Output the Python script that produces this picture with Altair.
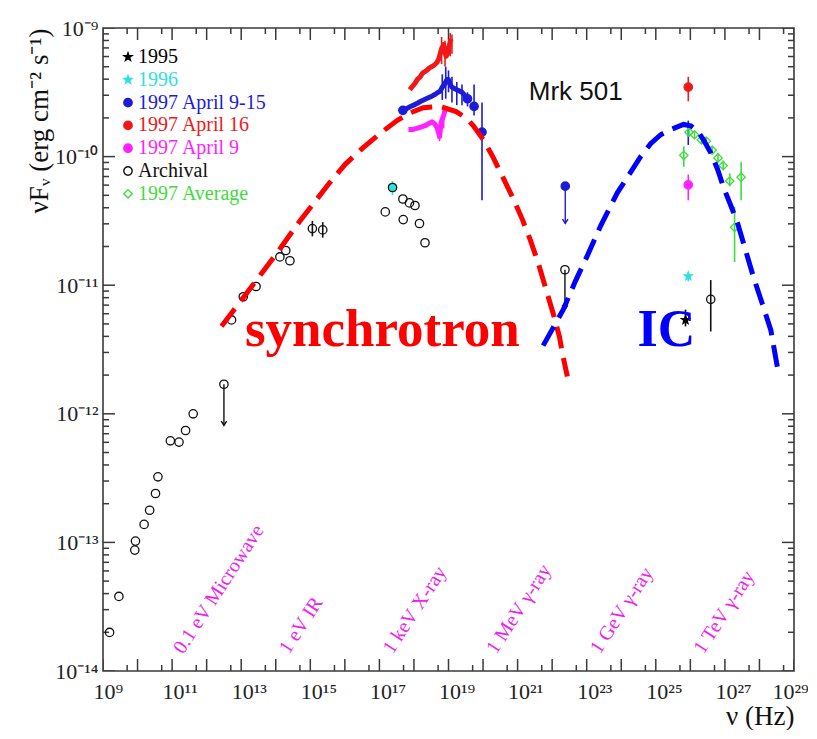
import altair as alt
import pandas as pd

# ---------------- data (log10 values) ----------------
series_names = ["1995", "1996", "1997 April 9-15", "1997 April 16",
                "1997 April 9", "Archival", "1997 Average"]

# individual measured points  (log10 nu [Hz], log10 nuFnu [erg cm^-2 s^-1])
p1995_lognu = [25.86]
p1995_logF = [-11.27]
p1996_lognu = [25.94]
p1996_logF = [-10.93]
pblue_lognu = [17.68, 19.55, 19.74, 19.97, 22.38]
pblue_logF = [-9.64, -9.55, -9.61, -9.81, -10.23]
pred_lognu = [25.94]
pred_logF = [-9.46]
pmag_lognu = [25.94]
pmag_logF = [-10.22]
arch_lognu = [9.19, 9.46, 9.92, 9.94, 10.19, 10.35, 10.52, 10.59, 10.95, 11.20,
              11.39, 11.61, 12.50, 12.72, 13.06, 13.43, 14.12, 14.29, 14.41, 15.06,
              15.36, 17.17, 17.38, 17.68, 17.87, 18.03, 17.69, 18.16, 18.32, 22.37,
              26.59]
arch_logF = [-13.70, -13.42, -13.06, -12.99, -12.86, -12.75, -12.62, -12.49, -12.21, -12.22,
             -12.13, -12.00, -11.77, -11.27, -11.09, -11.01, -10.78, -10.73, -10.81, -10.56,
             -10.57, -10.43, -10.24, -10.33, -10.36, -10.38, -10.49, -10.52, -10.67, -10.88,
             -11.11]
avg_lognu = [25.81, 25.96, 26.12, 26.32, 26.46, 26.63, 26.80, 26.95, 27.14, 27.28, 27.47]
avg_logF = [-9.99, -9.81, -9.83, -9.87, -9.88, -9.95, -10.01, -10.07, -10.19, -10.55, -10.16]

# 1996 point in the X-ray band (cyan, under an archival circle)
cyanx_lognu = [17.38]
cyanx_logF = [-10.24]

# X-ray spectra (BeppoSAX)
spec_red_lognu = [17.88, 17.95, 18.03, 18.10, 18.18, 18.25, 18.37, 18.45, 18.52, 18.58, 18.66,
                  18.72, 18.76, 18.80, 18.86, 18.90, 18.93, 18.97, 19.00, 19.05, 19.10]
spec_red_logF = [-9.48, -9.455, -9.43, -9.40, -9.38, -9.35, -9.33, -9.31, -9.30, -9.29, -9.27,
                 -9.24, -9.20, -9.16, -9.13, -9.19, -9.22, -9.20, -9.17, -9.10, -9.11]
spec_blue_lognu = [17.68, 17.80, 17.90, 17.99, 18.10, 18.20, 18.28, 18.40, 18.52, 18.62, 18.70,
                   18.76, 18.82, 18.88, 18.92, 18.96, 19.00, 19.05, 19.10, 19.17, 19.24, 19.32,
                   19.39, 19.46, 19.55]
spec_blue_logF = [-9.64, -9.625, -9.61, -9.60, -9.585, -9.57, -9.56, -9.545, -9.53, -9.515, -9.50,
                  -9.49, -9.46, -9.44, -9.42, -9.40, -9.40, -9.44, -9.46, -9.47, -9.48, -9.49,
                  -9.50, -9.52, -9.55]
spec_mag_lognu = [17.84, 17.95, 18.08, 18.20, 18.32, 18.42, 18.52, 18.60, 18.66, 18.70, 18.74,
                  18.78, 18.81, 18.86, 18.90]
spec_mag_logF = [-9.79, -9.79, -9.78, -9.77, -9.76, -9.745, -9.73, -9.745, -9.77, -9.80, -9.845,
                 -9.76, -9.715, -9.68, -9.64]

# error bars (series, log nu, log low, log high)
err_series = (["Archival"] * 3 + ["1995", "1996", "1996"] +
              ["1997 April 9-15"] * 10 + ["1997 April 16"] * 5 + ["1997 April 9"] * 3 +
              ["1997 Average"] * 11)
err_lognu = ([15.06, 15.36, 26.59] + [25.86, 25.94, 17.38] +
             [25.94, 19.74, 19.97, 18.82, 18.92, 19.00, 19.10, 19.24, 19.39, 19.55] +
             [25.94, 18.80, 18.90, 19.05, 19.10] + [25.94, 18.74, 18.86] +
             [25.81, 25.96, 26.12, 26.32, 26.46, 26.63, 26.80, 26.95, 27.14, 27.28, 27.47])
err_lo = ([-10.62, -10.63, -11.36] + [-11.32, -10.97, -10.30] +
          [-9.91, -9.68, -10.34, -9.56, -9.55, -9.50, -9.58, -9.60, -9.60, -9.61] +
          [-9.57, -9.28, -9.30, -9.22, -9.20] + [-10.34, -9.88, -9.78] +
          [-10.08, -9.84, -9.86, -9.90, -9.91, -9.98, -10.04, -10.10, -10.23, -10.82, -10.34])
err_hi = ([-10.50, -10.51, -10.96] + [-11.19, -10.90, -10.19] +
          [-9.72, -9.44, -9.58, -9.36, -9.30, -9.33, -9.38, -9.42, -9.44, -9.50] +
          [-9.38, -9.07, -9.10, -9.04, -9.05] + [-10.14, -9.72, -9.64] +
          [-9.92, -9.77, -9.80, -9.84, -9.85, -9.92, -9.97, -10.03, -10.13, -10.39, -10.04])

# upper limits (arrows)
ul_series = ["Archival", "Archival", "1997 April 9-15"]
ul_lognu = [12.50, 22.37, 22.38]
ul_from = [-11.77, -10.88, -10.23]
ul_to = [-12.09, -11.19, -10.52]

# model curves (hand-drawn dashed)
sync_lognu = [12.43, 13.25, 13.98, 14.70, 15.57, 16.01, 16.53, 17.02, 17.51, 17.89, 18.27, 18.76,
              19.22, 19.51, 19.72, 20.01, 20.30, 20.59, 20.88, 21.14, 21.37, 21.60, 21.83, 22.03,
              22.21, 22.32, 22.44]
sync_logF = [-11.32, -11.03, -10.77, -10.50, -10.20, -10.06, -9.93, -9.82, -9.72, -9.66, -9.62, -9.61,
             -9.65, -9.70, -9.76, -9.87, -10.01, -10.17, -10.33, -10.49, -10.65, -10.83, -11.04, -11.22,
             -11.40, -11.56, -11.71]
ic_lognu = [21.74, 22.03, 22.32, 22.67, 23.02, 23.40, 23.89, 24.18, 24.56, 24.85, 25.14, 25.43, 25.80,
            26.01, 26.21, 26.38, 26.59, 26.79, 26.96, 27.17, 27.37, 27.60, 27.83, 28.09, 28.33, 28.56]
ic_logF = [-11.47, -11.33, -11.19, -10.97, -10.77, -10.54, -10.28, -10.16, -10.00, -9.90, -9.83, -9.79,
           -9.75, -9.76, -9.80, -9.87, -9.97, -10.10, -10.24, -10.38, -10.52, -10.73, -10.94, -11.15,
           -11.35, -11.70]

# band labels along the frequency axis
band_labels = ["0.1 eV Microwave", "1 eV IR", "1 keV X-ray", "1 MeV γ-ray", "1 GeV γ-ray", "1 TeV γ-ray"]
band_nu = [2.1e11, 2.42e14, 2.42e17, 2.42e20, 2.42e23, 2.42e26]

# axis ticks and tick labels
x_label_exps = list(range(9, 30, 2))
x_major = [float(f"1e{k}") for k in range(9, 30)]
x_minor = [float(f"5e{k}") for k in range(9, 29)]
y_label_exps = list(range(-14, -8))
y_major = [float(f"1e{k}") for k in range(-14, -8)]
y_minor = [float(f"{m}e{k}") for k in range(-14, -9) for m in range(2, 10)]
x_edges = [1e9, 1e29]
y_edges = [1e-14, 1e-9]

# ---------------- styles ----------------
STAR = ("M0,-1L0.235,-0.324L0.951,-0.309L0.38,0.124L0.588,0.809L0,0.4L-0.588,0.809"
        "L-0.38,0.124L-0.951,-0.309L-0.235,-0.324Z")
ARROW = "M-0.7,-1.1L0,0L0.7,-1.1"
stroke_range = ["#000000", "#2ee0e0", "#1c1cd8", "#f01818", "#ff22ff", "#111111", "#3fdc3f"]
fill_range = ["#000000", "#2ee0e0", "#1c1cd8", "#f01818", "#ff22ff", "transparent", "transparent"]
shape_range = [STAR, STAR, "circle", "circle", "circle", "circle", "diamond"]
size_range = [70, 70, 60, 60, 60, 85, 38]
AX = "#3a3a3a"
SERIF = "Liberation Serif"
series_color = dict(zip(series_names, stroke_range))

SUP = str.maketrans("-0123456789", "⁻⁰¹²³⁴⁵⁶⁷⁸⁹")


def label_expr(exps):
    e = "round(log(datum.value)/LN10)"
    s = ""
    for k in exps:
        s += f"{e} == {k} ? '10{str(k).translate(SUP)}' : "
    return s + "''"


def color_expr():
    s = ""
    for name, col in zip(series_names, stroke_range):
        s += f"datum.value == '{name}' ? '{col}' : "
    return s + "'#000000'"


def L(v):
    return [10.0 ** x for x in v]


# ---------------- tables ----------------
pts = pd.DataFrame({
    "series": (["1995"] * len(p1995_lognu) + ["1996"] * len(p1996_lognu) +
               ["1997 April 9-15"] * len(pblue_lognu) + ["1997 April 16"] * len(pred_lognu) +
               ["1997 April 9"] * len(pmag_lognu) + ["Archival"] * len(arch_lognu) +
               ["1997 Average"] * len(avg_lognu)),
    "nu": L(p1995_lognu + p1996_lognu + pblue_lognu + pred_lognu + pmag_lognu + arch_lognu + avg_lognu),
    "F": L(p1995_logF + p1996_logF + pblue_logF + pred_logF + pmag_logF + arch_logF + avg_logF),
})
cyan_df = pd.DataFrame({"nu": L(cyanx_lognu), "F": L(cyanx_logF)})
spec_series = (["1997 April 16"] * len(spec_red_lognu) + ["1997 April 9-15"] * len(spec_blue_lognu) +
               ["1997 April 9"] * len(spec_mag_lognu))
spec = pd.DataFrame({
    "series": spec_series,
    "col": [series_color[s] for s in spec_series],
    "nu": L(spec_red_lognu + spec_blue_lognu + spec_mag_lognu),
    "F": L(spec_red_logF + spec_blue_logF + spec_mag_logF),
})
errs = pd.DataFrame({"col": [series_color[s] for s in err_series],
                     "nu": L(err_lognu), "lo": L(err_lo), "hi": L(err_hi)})
uls = pd.DataFrame({"col": [series_color[s] for s in ul_series],
                    "nu": L(ul_lognu), "F0": L(ul_from), "F1": L(ul_to)})
sync = pd.DataFrame({"nu": L(sync_lognu), "F": L(sync_logF)})
ic = pd.DataFrame({"nu": L(ic_lognu), "F": L(ic_logF)})
bands = pd.DataFrame({"label": band_labels, "nu": band_nu})
xt_major = pd.DataFrame([{"v": v, "e": e} for v in x_major for e in y_edges])
xt_minor = pd.DataFrame([{"v": v, "e": e} for v in x_minor for e in y_edges])
yt_major = pd.DataFrame([{"v": v, "e": e} for v in y_major for e in x_edges])
yt_minor = pd.DataFrame([{"v": v, "e": e} for v in y_minor for e in x_edges])

# ---------------- scales & axes ----------------
xs = alt.Scale(type="log", domain=[1e9, 1e29], nice=False)
ys = alt.Scale(type="log", domain=[1e-14, 1e-9], nice=False)
stroke_scale = alt.Scale(domain=series_names, range=stroke_range)
fill_scale = alt.Scale(domain=series_names, range=fill_range)
shape_scale = alt.Scale(domain=series_names, range=shape_range)
size_scale = alt.Scale(domain=series_names, range=size_range)

W, H = 691, 643

ax_x_labels = alt.Axis(
    orient="bottom", values=[float(f"1e{k}") for k in x_label_exps], labelExpr=label_expr(x_label_exps),
    ticks=False, domain=False, grid=False, labelFont=SERIF, labelFontSize=22, labelColor="#222",
    labelAlign="left",
    labelOffset={"condition": {"test": "datum.value > 1e28", "value": -22}, "value": -10},
    labelPadding=10, labelBaseline="top", labelOverlap=False,
    labelFlush=False, title="ν (Hz)", titleFont=SERIF, titleFontSize=27, titleFontWeight="normal",
    titleColor="#111", titleX=W, titleY=53, titleAlign="right", titleBaseline="alphabetic", titleAngle=0)
ax_y_labels = alt.Axis(
    orient="left", values=[float(f"1e{k}") for k in y_label_exps], labelExpr=label_expr(y_label_exps),
    ticks=False, domain=False, grid=False, labelFont=SERIF, labelFontSize=22, labelColor="#222",
    labelAlign="right", labelBaseline="middle", labelPadding=5, labelOverlap=False, labelFlush=False,
    title="νFᵥ (erg cm⁻² s⁻¹)", titleFont=SERIF, titleFontSize=27, titleFontWeight="normal",
    titleColor="#111", titleAngle=270, titleAlign="right", titleBaseline="middle", titleX=-64, titleY=0)

LEG = alt.Legend(orient="none", legendX=15, legendY=19, title=None, padding=0, rowPadding=2.8,
                 labelOffset=0, symbolSize=50, symbolStrokeWidth=1.4, labelFont=SERIF, labelFontSize=20,
                 labelLimit=300, labelColor=alt.ExprRef(color_expr()))


def X(field="nu", axis=None):
    return alt.X(f"{field}:Q", scale=xs, axis=axis)


def Y(field="F", axis=None):
    return alt.Y(f"{field}:Q", scale=ys, axis=axis)


col_direct = alt.Stroke("col:N", scale=None)

# inward frame ticks (half of each tick is clipped by the frame)
xt1 = alt.Chart(xt_major).mark_tick(orient="vertical", size=24, thickness=1.5, color=AX, clip=True, opacity=1).encode(
    x=X("v"), y=Y("e"))
xt2 = alt.Chart(xt_minor).mark_tick(orient="vertical", size=12, thickness=1.5, color=AX, clip=True, opacity=1).encode(
    x=X("v"), y=Y("e"))
yt1 = alt.Chart(yt_major).mark_tick(orient="horizontal", size=24, thickness=1.5, color=AX, clip=True, opacity=1).encode(
    x=X("e"), y=Y("v"))
yt2 = alt.Chart(yt_minor).mark_tick(orient="horizontal", size=12, thickness=1.5, color=AX, clip=True, opacity=1).encode(
    x=X("e"), y=Y("v"))

spectra = alt.Chart(spec).mark_line(strokeWidth=5, strokeJoin="round").encode(
    x=X(), y=Y(), stroke=col_direct, detail="series:N")

errbars = alt.Chart(errs).mark_rule(strokeWidth=1.6).encode(
    x=X(), y=Y("lo"), y2="hi:Q", stroke=col_direct)

ul_rules = alt.Chart(uls).mark_rule(strokeWidth=1.4).encode(
    x=X(), y=Y("F0"), y2="F1:Q", stroke=col_direct)
ul_heads = alt.Chart(uls).mark_point(shape=ARROW, size=60, filled=False, strokeWidth=1.4, opacity=1).encode(
    x=X(), y=Y("F1"), stroke=col_direct)

cyan_pt = alt.Chart(cyan_df).mark_point(filled=True, shape="circle", size=80, color="#2ee0e0", opacity=1).encode(
    x=X(), y=Y())

points = alt.Chart(pts).mark_point(filled=True, strokeWidth=1.3, opacity=1).encode(
    x=X(axis=ax_x_labels), y=Y(axis=ax_y_labels),
    fill=alt.Fill("series:N", scale=fill_scale, legend=LEG),
    stroke=alt.Stroke("series:N", scale=stroke_scale, legend=LEG),
    shape=alt.Shape("series:N", scale=shape_scale, legend=LEG),
    size=alt.Size("series:N", scale=size_scale, legend=None))

sync_curve = alt.Chart(sync).mark_line(stroke="#ff0000", strokeWidth=5, strokeDash=[22, 10]).encode(
    x=X(), y=Y())
ic_curve = alt.Chart(ic).mark_line(stroke="#0000ff", strokeWidth=5, strokeDash=[22, 10]).encode(
    x=X(), y=Y())


def note(text, nu, F, **kw):
    return alt.Chart(pd.DataFrame({"t": [text]})).mark_text(align="left", baseline="alphabetic", **kw).encode(
        x=alt.XDatum(nu, scale=xs, axis=None), y=alt.YDatum(F, scale=ys, axis=None), text="t:N")


t_sync = note("synchrotron", 1.28e13, 3.37e-12, font=SERIF, fontSize=53, fontWeight="bold", color="#ff0000")
t_ic = note("IC", 2.95e24, 3.37e-12, font=SERIF, fontSize=52, fontWeight="bold", color="#0000ff")
t_mrk = note("Mrk 501", 2.1e21, 2.75e-10, font="Liberation Sans", fontSize=26, color="#111")

t_bands = alt.Chart(bands).mark_text(align="left", baseline="alphabetic", angle=303, font=SERIF,
                                      fontSize=20, color="#ee22ee").encode(
    x=X(), y=alt.YDatum(1.33e-14, scale=ys, axis=None), text="label:N")

chart = alt.layer(
    xt1, xt2, yt1, yt2, spectra, errbars, ul_rules, ul_heads, cyan_pt, points, sync_curve, ic_curve,
    t_sync, t_ic, t_mrk, t_bands
).resolve_axis(x="independent", y="independent").properties(
    width=W, height=H,
    padding={"left": 95, "top": 20, "right": 14, "bottom": 59},
    autosize=alt.AutoSizeParams(type="none"),
    background="#ffffff",
).configure_view(stroke=AX, strokeWidth=1.6)

chart.save("out.html", embed_options={"renderer": "svg", "actions": False})
